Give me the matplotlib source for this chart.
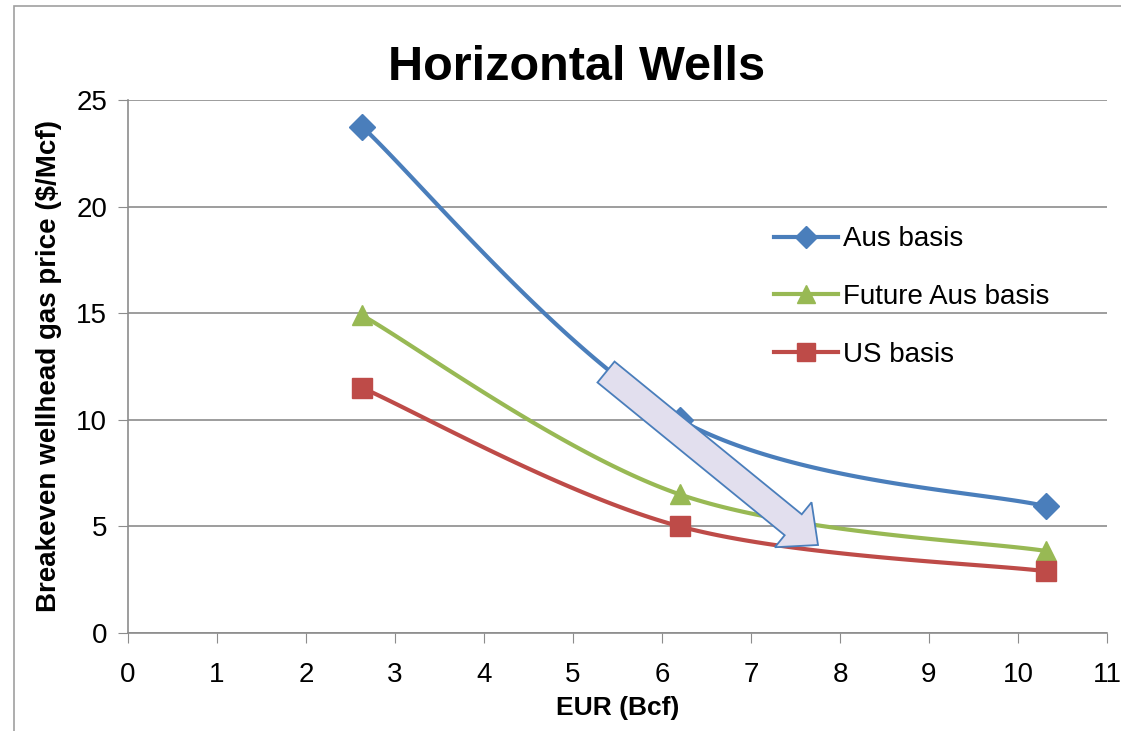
import numpy as np
import matplotlib
matplotlib.use("Agg")
import matplotlib.pyplot as plt
from matplotlib.patches import Polygon, Rectangle
from matplotlib import font_manager

# EUR (Bcf) vs breakeven price ($/Mcf)
eur = [2.63, 6.2, 10.31]
aus_basis = [23.75, 10.0, 5.95]
future_aus_basis = [14.9, 6.5, 3.85]
us_basis = [11.5, 5.0, 2.9]

x_ticks = list(range(0, 12))
y_ticks = [0, 5, 10, 15, 20, 25]

names = [f.name for f in font_manager.fontManager.ttflist]
base_font = "Liberation Sans Narrow" if "Liberation Sans Narrow" in names else "Liberation Sans"
plt.rcParams['font.family'] = [base_font, 'DejaVu Sans']


def smooth(xs, ys, n=60):
    # bezier smoothing through the points (Catmull-Rom style control points)
    p = np.column_stack([xs, ys]).astype(float)
    p_ext = np.vstack([p[0], p, p[-1]])
    out = []
    for i in range(len(p) - 1):
        p0, p1, p2, p3 = p_ext[i], p_ext[i + 1], p_ext[i + 2], p_ext[i + 3]
        c1 = p1 + (p2 - p0) / 6.0
        c2 = p2 - (p3 - p1) / 6.0
        t = np.linspace(0, 1, n)[:, None]
        seg = ((1 - t) ** 3) * p1 + 3 * ((1 - t) ** 2) * t * c1 + 3 * (1 - t) * t ** 2 * c2 + t ** 3 * p2
        out.append(seg if i == 0 else seg[1:])
    seg = np.vstack(out)
    return seg[:, 0], seg[:, 1]


fig = plt.figure(figsize=(11.21, 7.31), dpi=100)
ax = fig.add_axes([128 / 1121, 1 - 633 / 731, (1107 - 128) / 1121, (633 - 100) / 731])

# outer chart border
fig.patches.append(Rectangle((14 / 1121, -0.1), 1.2, 1 - 6 / 731 + 0.1, transform=fig.transFigure,
                             fill=False, ec="#a0a0a0", lw=1.2, zorder=0))

series = [
    ("Aus basis", aus_basis, "#4a7ebb", "D", 13),
    ("Future Aus basis", future_aus_basis, "#98b954", "^", 15),
    ("US basis", us_basis, "#be4b48", "s", 15),
]
for label, vals, col, mk, ms in series:
    sx, sy = smooth(eur, vals)
    ax.plot(sx, sy, color=col, lw=3, zorder=3, solid_capstyle="round")
    ax.plot(eur, vals, ls="none", marker=mk, ms=ms, color=col, mec=col, zorder=4)
    ax.plot([], [], color=col, lw=3, marker=mk, ms=ms * 0.85, label=label)

ax.set_xlim(0, 11)
ax.set_ylim(0, 25)
ax.set_xticks(x_ticks)
ax.set_yticks(y_ticks)
ax.tick_params(axis="both", direction="out", length=7, color="#8c8c8c", labelsize=20, pad=8)
ax.tick_params(axis="x", pad=14)
ax.yaxis.grid(True, color="#8c8c8c", lw=1.2)
ax.set_axisbelow(True)
for s in ["top", "right"]:
    ax.spines[s].set_visible(False)
for s in ["left", "bottom"]:
    ax.spines[s].set_color("#8c8c8c")
    ax.spines[s].set_linewidth(1.2)

ax.set_xlabel("EUR (Bcf)", fontsize=19, fontweight="bold", labelpad=6)
ax.set_ylabel("Breakeven wellhead gas price ($/Mcf)", fontsize=20, fontweight="bold", labelpad=10)
fig.text(577 / 1121, 1 - 68 / 731, "Horizontal Wells", fontsize=35, fontweight="bold",
         ha="center", va="center")

ax.legend(loc="upper left", bbox_to_anchor=(0.634, 0.81), frameon=False, fontsize=20,
          handlelength=2.3, labelspacing=1.15, handletextpad=0.2)

# block arrow across the curves, built in display pixels
fig.canvas.draw()
tail = np.array([606.0, 731 - 372.0])
tip = np.array([818.0, 731 - 545.0])
d = tip - tail
L = np.hypot(*d)
u = d / L
nrm = np.array([-u[1], u[0]])
shaft_w, head_w, head_l = 27.0, 58.0, 32.0
base = tip - u * head_l
pts = [tail + nrm * shaft_w / 2, base + nrm * shaft_w / 2, base + nrm * head_w / 2, tip,
       base - nrm * head_w / 2, base - nrm * shaft_w / 2, tail - nrm * shaft_w / 2]
fig.patches.append(Polygon(pts, closed=True, transform=None, fc="#e2dfee", ec="#4a7ebb",
                           lw=1.3, zorder=10))

fig.savefig("out.png", dpi=100)
